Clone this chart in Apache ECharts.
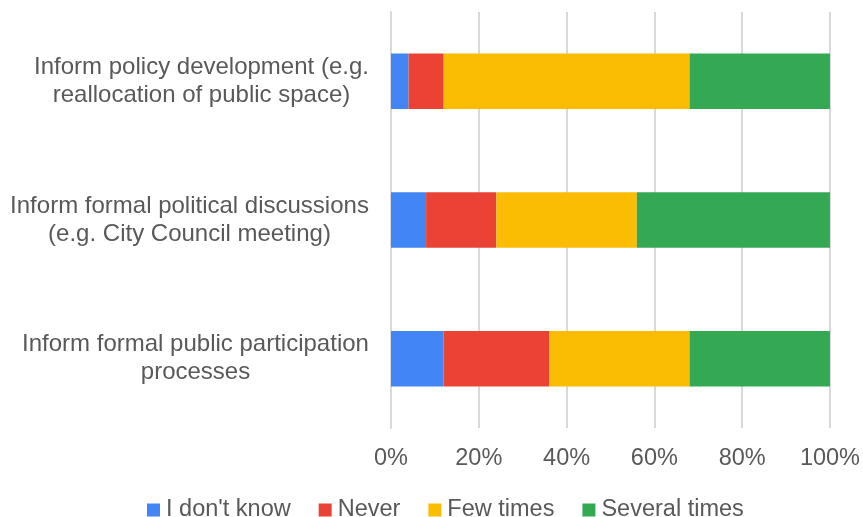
<!DOCTYPE html>
<html><head><meta charset="utf-8">
<script src="https://cdn.jsdelivr.net/npm/echarts@6/dist/echarts.min.js"></script>
<style>html,body{margin:0;padding:0;background:#fff}#c{width:863px;height:517px}</style>
</head><body><div id="c"></div>
<script>
const categories = [
  "Inform formal public participation\nprocesses",
  "Inform formal political discussions\n(e.g. City Council meeting)",
  "Inform policy development (e.g.\nreallocation of public space)"
];
const seriesNames = ["I don't know", "Never", "Few times", "Several times"];
const dontKnow = [12, 8, 4];
const never = [24, 16, 8];
const fewTimes = [32, 32, 56];
const severalTimes = [32, 44, 32];
const xTicks = [0, 20, 40, 60, 80, 100];
const colors = ["#4285F4", "#EA4335", "#FBBC04", "#34A853"];
const values = [dontKnow, never, fewTimes, severalTimes];

const FONT = 'Liberation Sans';
const catFontSize = 24;
const cv = document.createElement('canvas').getContext('2d');
cv.font = catFontSize + 'px "' + FONT + '"';
const rich = {};
categories.forEach((c, i) => {
  const w = Math.max(...c.split('\n').map(l => cv.measureText(l).width));
  rich['r' + i] = {width: Math.ceil(w), align: 'center', fontSize: catFontSize, color: '#595959', lineHeight: 28, fontFamily: FONT};
});

const chart = echarts.init(document.getElementById('c'), null, {renderer: 'canvas'});
chart.setOption({
  animation: false,
  color: colors,
  textStyle: {fontFamily: FONT},
  grid: {left: 391, right: 30, top: 12, bottom: 89, containLabel: false},
  legend: {
    bottom: -10, left: 142, itemGap: 28, itemWidth: 13, itemHeight: 13,
    icon: 'rect',
    textStyle: {fontSize: 23.5, color: '#595959', padding: [0,0,0,1]},
    data: seriesNames
  },
  xAxis: {
    type: 'value', min: xTicks[0], max: xTicks[xTicks.length-1], interval: 20,
    axisLabel: {formatter: v => v + '%', fontSize: 23.5, color: '#595959', margin: 19},
    splitLine: {show: true, lineStyle: {color: '#D9D9D9', width: 2}},
    axisLine: {show: false}, axisTick: {show: false}
  },
  yAxis: {
    type: 'category', data: categories,
    axisLine: {show: true, lineStyle: {color: '#D9D9D9', width: 2}},
    axisTick: {show: false},
    axisLabel: {
      margin: 22, align: 'right', rich: rich,
      formatter: (v, idx) => v.split('\n').map(l => '{r' + idx + '|' + l + '}').join('\n')
    }
  },
  series: seriesNames.map((n, i) => ({
    name: n, type: 'bar', stack: 'total', barWidth: '40%',
    data: values[i]
  }))
});
</script></body></html>
